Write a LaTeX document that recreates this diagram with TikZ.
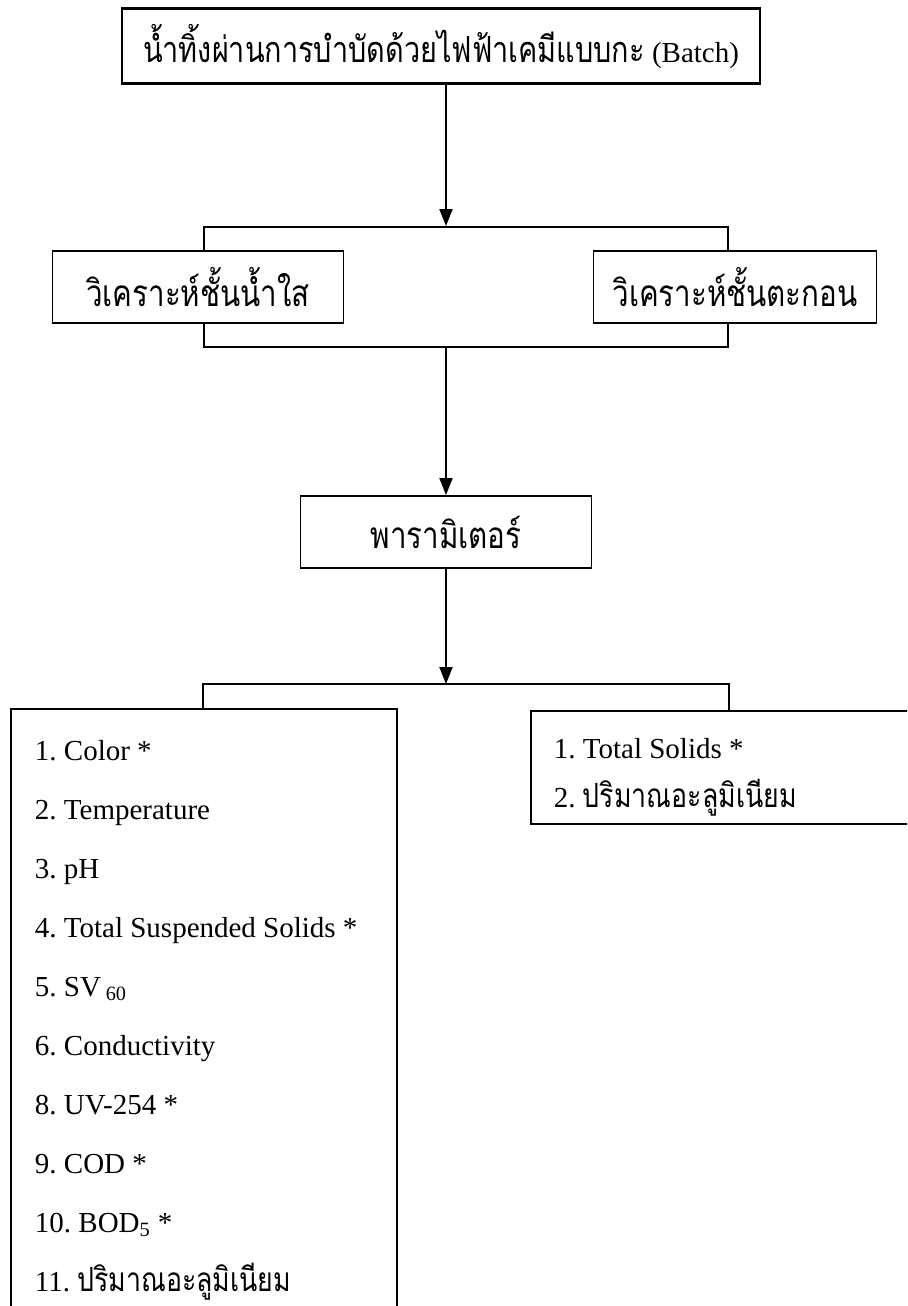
\documentclass[tikz,border=0pt]{standalone}
\usepackage{fontspec}
\setmainfont{Liberation Serif}
\newfontfamily\thai[Script=Thai,FakeStretch=0.8]{Loma}
\usetikzlibrary{arrows.meta}
\frenchspacing

\begin{document}
\begin{tikzpicture}[x=0.02cm, y=-0.02cm, line width=1.1pt, every node/.style={font=\fontsize{16.5}{20}\selectfont}, box/.style={draw, fill=white, minimum height=1.44cm, minimum width=5.82cm, inner sep=0pt}, split/.style={draw, inner sep=0pt}, arrow/.style={-{Triangle[length=0.34cm,width=0.26cm]}}, item/.style={anchor=base west, inner sep=0pt}]
\useasboundingbox (0,0) rectangle (907,1306);
\clip (0,0) rectangle (907,1306);
% process and the two layers
\node[box, minimum width=12.76cm, minimum height=1.5cm, line width=1.4pt] (batch) at (441,46) {{\thai\fontsize{20.5}{24}\selectfont น้ำทิ้งผ่านการบำบัดด้วยไฟฟ้าเคมีแบบกะ} (Batch)};
\node[split, minimum width=10.5cm, minimum height=2.4cm] (layers) at (466,287) {};
\node[box] (clear) at (198,287) {\thai\fontsize{21}{24}\selectfont วิเคราะห์ชั้นน้ำใส};
\node[box, minimum width=5.66cm] (sludge) at (735,287) {\thai\fontsize{21}{24}\selectfont วิเคราะห์ชั้นตะกอน};
\node[box] (param) at (446,532) {\thai\fontsize{21}{24}\selectfont พารามิเตอร์};
\coordinate (fork) at (446,684);
% parameter lists
\node[box, anchor=north west, minimum width=7.72cm, minimum height=14cm] (clearlist) at (10,708) {};
\node[box, anchor=north west, minimum width=8cm, minimum height=2.26cm] (sludgelist) at (530,710) {};
\foreach \t [count=\i from 0] in {1. Color *, 2. Temperature, 3. pH, 4. Total Suspended Solids *, 5. SV\,\textsubscript{60}, 6. Conductivity, 8. UV-254 *, 9. COD *, 10. BOD\textsubscript{5} *, {11. {\thai\fontsize{19}{20}\selectfont ปริมาณอะลูมิเนียม}}}
  \node[item] (c\i) at (34,760+\i*59) {\t};
\node[item] (s1) at (553,758) {1. Total Solids *};
\node[item] (s2) at (553,807) {2. {\thai\fontsize{19}{20}\selectfont ปริมาณอะลูมิเนียม}};
% connectors
\draw[arrow] (batch.south -| param) -- (layers.north -| param);
\draw[arrow] (layers.south -| param) -- (param);
\draw[arrow] (param) -- (fork);
\draw (clearlist.north -| layers.west) |- (fork) -| (sludgelist.north -| layers.east);
\end{tikzpicture}
\end{document}
